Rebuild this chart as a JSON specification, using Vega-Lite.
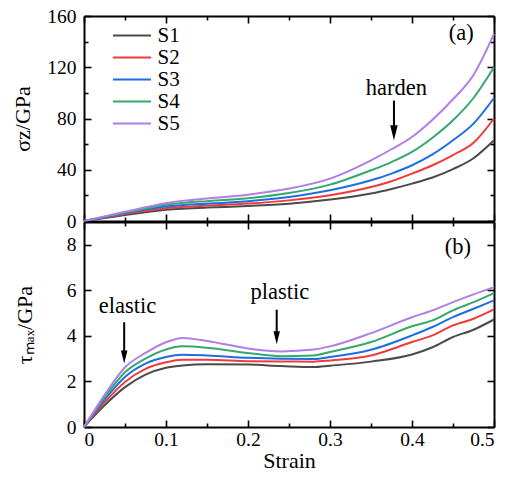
{
  "$schema": "https://vega.github.io/schema/vega-lite/v6.json",
  "background": "white",
  "padding": {"left": 11, "top": 6, "right": 4, "bottom": 2},
  "spacing": 1,
  "bounds": "flush",
  "config": {
    "view": {"stroke": null},
    "font": "Liberation Serif",
    "axis": {
      "grid": false,
      "domainColor": "black",
      "domainWidth": 2,
      "tickColor": "black",
      "tickWidth": 1.6,
      "labelFont": "Liberation Serif",
      "labelFontSize": 19.5,
      "labelColor": "black",
      "titleFont": "Liberation Serif",
      "titleFontSize": 22,
      "titleFontWeight": "normal",
      "titleColor": "black"
    },
    "legend": {"labelFont": "Liberation Serif"},
    "text": {"font": "Liberation Serif"}
  },
  "datasets": {
    "sz": [
      {"series":"S1","strain":0,"value":0},{"series":"S1","strain":0.025,"value":2.3},{"series":"S1","strain":0.05,"value":4.6},{"series":"S1","strain":0.075,"value":6.8},{"series":"S1","strain":0.1,"value":8.8},{"series":"S1","strain":0.125,"value":9.8},{"series":"S1","strain":0.15,"value":10.5},{"series":"S1","strain":0.2,"value":11.7},{"series":"S1","strain":0.25,"value":13.5},{"series":"S1","strain":0.3,"value":16.7},{"series":"S1","strain":0.35,"value":21.4},{"series":"S1","strain":0.375,"value":25},{"series":"S1","strain":0.4,"value":29.2},{"series":"S1","strain":0.425,"value":34},{"series":"S1","strain":0.45,"value":40.5},{"series":"S1","strain":0.475,"value":49},{"series":"S1","strain":0.5,"value":63},
      {"series":"S2","strain":0,"value":0},{"series":"S2","strain":0.025,"value":2.7},{"series":"S2","strain":0.05,"value":5.4},{"series":"S2","strain":0.075,"value":7.9},{"series":"S2","strain":0.1,"value":10.0},{"series":"S2","strain":0.125,"value":11.2},{"series":"S2","strain":0.15,"value":12.0},{"series":"S2","strain":0.2,"value":13.6},{"series":"S2","strain":0.25,"value":16.1},{"series":"S2","strain":0.3,"value":20.1},{"series":"S2","strain":0.35,"value":26.5},{"series":"S2","strain":0.375,"value":31},{"series":"S2","strain":0.4,"value":37.0},{"series":"S2","strain":0.425,"value":43.5},{"series":"S2","strain":0.45,"value":51.5},{"series":"S2","strain":0.475,"value":61},{"series":"S2","strain":0.5,"value":80},
      {"series":"S3","strain":0,"value":0},{"series":"S3","strain":0.025,"value":3.0},{"series":"S3","strain":0.05,"value":6.0},{"series":"S3","strain":0.075,"value":8.9},{"series":"S3","strain":0.1,"value":11.3},{"series":"S3","strain":0.125,"value":12.7},{"series":"S3","strain":0.15,"value":13.5},{"series":"S3","strain":0.2,"value":15.5},{"series":"S3","strain":0.25,"value":18.7},{"series":"S3","strain":0.3,"value":24.0},{"series":"S3","strain":0.35,"value":31.8},{"series":"S3","strain":0.375,"value":37},{"series":"S3","strain":0.4,"value":43.5},{"series":"S3","strain":0.425,"value":52},{"series":"S3","strain":0.45,"value":63},{"series":"S3","strain":0.475,"value":76},{"series":"S3","strain":0.5,"value":96},
      {"series":"S4","strain":0,"value":0},{"series":"S4","strain":0.025,"value":3.3},{"series":"S4","strain":0.05,"value":6.6},{"series":"S4","strain":0.075,"value":9.8},{"series":"S4","strain":0.1,"value":12.6},{"series":"S4","strain":0.125,"value":14.4},{"series":"S4","strain":0.15,"value":15.5},{"series":"S4","strain":0.2,"value":17.8},{"series":"S4","strain":0.25,"value":21.8},{"series":"S4","strain":0.3,"value":28.4},{"series":"S4","strain":0.35,"value":39.6},{"series":"S4","strain":0.375,"value":46},{"series":"S4","strain":0.4,"value":53.9},{"series":"S4","strain":0.425,"value":65},{"series":"S4","strain":0.45,"value":78.6},{"series":"S4","strain":0.475,"value":96},{"series":"S4","strain":0.5,"value":120},
      {"series":"S5","strain":0,"value":0},{"series":"S5","strain":0.025,"value":3.6},{"series":"S5","strain":0.05,"value":7.2},{"series":"S5","strain":0.075,"value":10.7},{"series":"S5","strain":0.1,"value":13.9},{"series":"S5","strain":0.125,"value":16.1},{"series":"S5","strain":0.15,"value":17.5},{"series":"S5","strain":0.2,"value":20.5},{"series":"S5","strain":0.25,"value":25.3},{"series":"S5","strain":0.3,"value":33.1},{"series":"S5","strain":0.35,"value":47.4},{"series":"S5","strain":0.375,"value":56},{"series":"S5","strain":0.4,"value":65.6},{"series":"S5","strain":0.425,"value":79},{"series":"S5","strain":0.45,"value":95},{"series":"S5","strain":0.475,"value":114},{"series":"S5","strain":0.5,"value":146}
    ],
    "tau": [
      {"series":"S1","strain":0,"value":0},{"series":"S1","strain":0.025,"value":0.95},{"series":"S1","strain":0.05,"value":1.75},{"series":"S1","strain":0.075,"value":2.3},{"series":"S1","strain":0.1,"value":2.6},{"series":"S1","strain":0.12,"value":2.7},{"series":"S1","strain":0.15,"value":2.76},{"series":"S1","strain":0.2,"value":2.74},{"series":"S1","strain":0.24,"value":2.68},{"series":"S1","strain":0.28,"value":2.63},{"series":"S1","strain":0.3,"value":2.69},{"series":"S1","strain":0.35,"value":2.87},{"series":"S1","strain":0.4,"value":3.18},{"series":"S1","strain":0.425,"value":3.5},{"series":"S1","strain":0.45,"value":3.95},{"series":"S1","strain":0.475,"value":4.27},{"series":"S1","strain":0.5,"value":4.72},
      {"series":"S2","strain":0,"value":0},{"series":"S2","strain":0.025,"value":1.08},{"series":"S2","strain":0.05,"value":1.98},{"series":"S2","strain":0.075,"value":2.55},{"series":"S2","strain":0.1,"value":2.84},{"series":"S2","strain":0.12,"value":2.95},{"series":"S2","strain":0.15,"value":2.95},{"series":"S2","strain":0.2,"value":2.89},{"series":"S2","strain":0.24,"value":2.88},{"series":"S2","strain":0.28,"value":2.87},{"series":"S2","strain":0.3,"value":2.92},{"series":"S2","strain":0.35,"value":3.14},{"series":"S2","strain":0.4,"value":3.73},{"series":"S2","strain":0.425,"value":4.02},{"series":"S2","strain":0.45,"value":4.46},{"series":"S2","strain":0.475,"value":4.75},{"series":"S2","strain":0.5,"value":5.16},
      {"series":"S3","strain":0,"value":0},{"series":"S3","strain":0.025,"value":1.2},{"series":"S3","strain":0.05,"value":2.2},{"series":"S3","strain":0.075,"value":2.78},{"series":"S3","strain":0.1,"value":3.07},{"series":"S3","strain":0.12,"value":3.17},{"series":"S3","strain":0.15,"value":3.14},{"series":"S3","strain":0.2,"value":3.04},{"series":"S3","strain":0.24,"value":3.0},{"series":"S3","strain":0.28,"value":2.99},{"series":"S3","strain":0.3,"value":3.07},{"series":"S3","strain":0.35,"value":3.39},{"series":"S3","strain":0.4,"value":4.02},{"series":"S3","strain":0.425,"value":4.39},{"series":"S3","strain":0.45,"value":4.82},{"series":"S3","strain":0.475,"value":5.19},{"series":"S3","strain":0.5,"value":5.56},
      {"series":"S4","strain":0,"value":0},{"series":"S4","strain":0.025,"value":1.3},{"series":"S4","strain":0.05,"value":2.4},{"series":"S4","strain":0.075,"value":3.0},{"series":"S4","strain":0.1,"value":3.4},{"series":"S4","strain":0.12,"value":3.54},{"series":"S4","strain":0.15,"value":3.48},{"series":"S4","strain":0.2,"value":3.25},{"series":"S4","strain":0.24,"value":3.11},{"series":"S4","strain":0.28,"value":3.14},{"series":"S4","strain":0.3,"value":3.29},{"series":"S4","strain":0.35,"value":3.73},{"series":"S4","strain":0.4,"value":4.42},{"series":"S4","strain":0.425,"value":4.68},{"series":"S4","strain":0.45,"value":5.12},{"series":"S4","strain":0.475,"value":5.48},{"series":"S4","strain":0.5,"value":5.88},
      {"series":"S5","strain":0,"value":0},{"series":"S5","strain":0.025,"value":1.4},{"series":"S5","strain":0.05,"value":2.62},{"series":"S5","strain":0.075,"value":3.25},{"series":"S5","strain":0.1,"value":3.72},{"series":"S5","strain":0.12,"value":3.91},{"series":"S5","strain":0.15,"value":3.78},{"series":"S5","strain":0.2,"value":3.45},{"series":"S5","strain":0.24,"value":3.32},{"series":"S5","strain":0.28,"value":3.4},{"series":"S5","strain":0.3,"value":3.54},{"series":"S5","strain":0.35,"value":4.12},{"series":"S5","strain":0.4,"value":4.82},{"series":"S5","strain":0.425,"value":5.12},{"series":"S5","strain":0.45,"value":5.48},{"series":"S5","strain":0.475,"value":5.82},{"series":"S5","strain":0.5,"value":6.14}
    ],
    "textA": [
      {"strain":0.46,"value":141,"label":"(a)"},
      {"strain":0.381,"value":98,"label":"harden"}
    ],
    "arrowA": [
      {"strain":0.378,"top":94,"bot":70,"head":68.9}
    ],
    "textB": [
      {"strain":0.456,"value":7.6,"label":"(b)"},
      {"strain":0.053,"value":4.99,"label":"elastic"},
      {"strain":0.239,"value":5.64,"label":"plastic"}
    ],
    "arrowB": [
      {"strain":0.049,"top":4.6,"bot":3.1,"head":3.07},
      {"strain":0.235,"top":5.15,"bot":3.95,"head":3.92}
    ]
  },
  "resolve": {"scale": {"color": "independent"}, "legend": {"color": "independent"}},
  "vconcat": [
    {
      "width": 410,
      "height": 205,
      "resolve": {"axis": {"x": "independent", "y": "independent"}},
      "layer": [
        {
          "data": {"name": "sz"},
          "mark": {"type": "line", "strokeWidth": 2, "interpolate": "monotone"},
          "encoding": {
            "x": {"field": "strain", "type": "quantitative", "scale": {"domain": [0, 0.5], "nice": false},
              "axis": {"orient": "bottom", "title": null, "labels": false,
                "values": [0,0.05,0.1,0.15,0.2,0.25,0.3,0.35,0.4,0.45,0.5],
                "tickSize": {"condition": {"test": "abs(round(datum.value*10) - datum.value*10) > 0.01", "value": -4}, "value": -7}}},
            "y": {"field": "value", "type": "quantitative", "scale": {"domain": [0, 160], "nice": false},
              "axis": {"orient": "left", "title": "σz/GPa", "titlePadding": 12,
                "values": [0,20,40,60,80,100,120,140,160], "labelPadding": 15,
                "labelExpr": "datum.value % 40 == 0 ? datum.label : ''",
                "tickSize": {"condition": {"test": "datum.value % 40 != 0", "value": -4}, "value": -7}}},
            "color": {"field": "series", "type": "nominal",
              "scale": {"domain": ["S1","S2","S3","S4","S5"], "range": ["#4a4a4a","#f03a3a","#1c6fe3","#35a86b","#b07ee6"]},
              "legend": {"orient": "none", "legendX": 37.5, "legendY": 9, "title": null, "padding": 0,
                "symbolType": "M-2,0L2,0", "symbolSize": 361, "symbolStrokeWidth": 2,
                "labelFontSize": 21, "labelColor": "black", "labelOffset": 15, "rowPadding": 0}}
          }
        },
        {
          "data": {"name": "sz"},
          "mark": {"type": "line", "opacity": 0},
          "encoding": {
            "x": {"field": "strain", "type": "quantitative",
              "axis": {"orient": "top", "title": null, "labels": false,
                "values": [0,0.05,0.1,0.15,0.2,0.25,0.3,0.35,0.4,0.45,0.5],
                "tickSize": {"condition": {"test": "abs(round(datum.value*10) - datum.value*10) > 0.01", "value": -4}, "value": -7}}},
            "y": {"field": "value", "type": "quantitative",
              "axis": {"orient": "right", "title": null, "labels": false,
                "values": [0,20,40,60,80,100,120,140,160],
                "tickSize": {"condition": {"test": "datum.value % 40 != 0", "value": -4}, "value": -7}}},
            "detail": {"field": "series"}
          }
        },
        {
          "data": {"name": "textA"},
          "mark": {"type": "text", "fontSize": 22.5, "align": "center", "baseline": "alphabetic", "color": "black"},
          "encoding": {
            "x": {"field": "strain", "type": "quantitative", "axis": null},
            "y": {"field": "value", "type": "quantitative", "axis": null},
            "text": {"field": "label"}
          }
        },
        {
          "data": {"name": "arrowA"},
          "mark": {"type": "rule", "color": "black", "strokeWidth": 2},
          "encoding": {
            "x": {"field": "strain", "type": "quantitative", "axis": null},
            "y": {"field": "top", "type": "quantitative", "axis": null},
            "y2": {"field": "bot"}
          }
        },
        {
          "data": {"name": "arrowA"},
          "mark": {"type": "point", "shape": "M-0.5,-1L0.5,-1L0,1Z", "filled": true, "color": "black", "opacity": 1, "size": 225},
          "encoding": {
            "x": {"field": "strain", "type": "quantitative", "axis": null},
            "y": {"field": "head", "type": "quantitative", "axis": null}
          }
        }
      ]
    },
    {
      "width": 410,
      "height": 205,
      "resolve": {"axis": {"x": "independent", "y": "independent"}},
      "layer": [
        {
          "data": {"name": "tau"},
          "mark": {"type": "line", "strokeWidth": 2, "interpolate": "monotone"},
          "encoding": {
            "x": {"field": "strain", "type": "quantitative", "scale": {"domain": [0, 0.5], "nice": false},
              "axis": {"orient": "bottom", "title": "Strain", "titlePadding": 2,
                "values": [0,0.05,0.1,0.15,0.2,0.25,0.3,0.35,0.4,0.45,0.5], "labelPadding": 10,
                "labelExpr": "abs(round(datum.value*10) - datum.value*10) < 0.01 ? format(datum.value, '~g') : ''",
                "tickSize": {"condition": {"test": "abs(round(datum.value*10) - datum.value*10) > 0.01", "value": -4}, "value": -7}}},
            "y": {"field": "value", "type": "quantitative", "scale": {"domain": [0, 9], "nice": false},
              "axis": {"orient": "left", "title": "τₘₐₓ/GPa", "titlePadding": 30,
                "values": [0,2,4,6,8], "labelPadding": 15, "tickSize": -7}},
            "color": {"field": "series", "type": "nominal",
              "scale": {"domain": ["S1","S2","S3","S4","S5"], "range": ["#4a4a4a","#f03a3a","#1c6fe3","#35a86b","#b07ee6"]},
              "legend": null}
          }
        },
        {
          "data": {"name": "tau"},
          "mark": {"type": "line", "opacity": 0},
          "encoding": {
            "x": {"field": "strain", "type": "quantitative",
              "axis": {"orient": "top", "title": null, "labels": false,
                "values": [0,0.05,0.1,0.15,0.2,0.25,0.3,0.35,0.4,0.45,0.5],
                "tickSize": {"condition": {"test": "abs(round(datum.value*10) - datum.value*10) > 0.01", "value": -4}, "value": -7}}},
            "y": {"field": "value", "type": "quantitative",
              "axis": {"orient": "right", "title": null, "labels": false, "values": [0,2,4,6,8], "tickSize": -7}},
            "detail": {"field": "series"}
          }
        },
        {
          "data": {"name": "textB"},
          "mark": {"type": "text", "fontSize": 22.5, "align": "center", "baseline": "alphabetic", "color": "black"},
          "encoding": {
            "x": {"field": "strain", "type": "quantitative", "axis": null},
            "y": {"field": "value", "type": "quantitative", "axis": null},
            "text": {"field": "label"}
          }
        },
        {
          "data": {"name": "arrowB"},
          "mark": {"type": "rule", "color": "black", "strokeWidth": 2},
          "encoding": {
            "x": {"field": "strain", "type": "quantitative", "axis": null},
            "y": {"field": "top", "type": "quantitative", "axis": null},
            "y2": {"field": "bot"}
          }
        },
        {
          "data": {"name": "arrowB"},
          "mark": {"type": "point", "shape": "M-0.5,-1L0.5,-1L0,1Z", "filled": true, "color": "black", "opacity": 1, "size": 170},
          "encoding": {
            "x": {"field": "strain", "type": "quantitative", "axis": null},
            "y": {"field": "head", "type": "quantitative", "axis": null}
          }
        }
      ]
    }
  ]
}
